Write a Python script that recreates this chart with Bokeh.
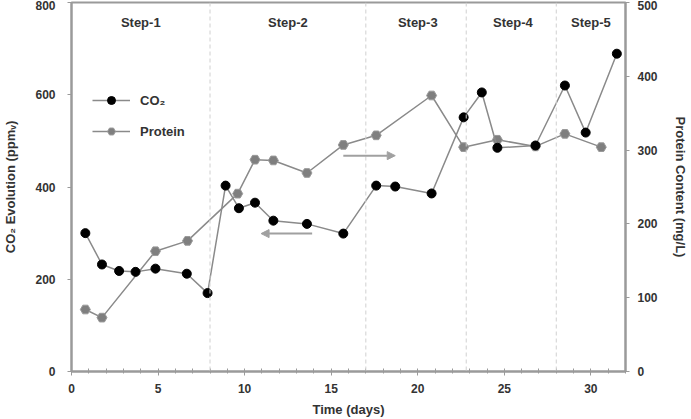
from bokeh.plotting import figure
from bokeh.models import (Range1d, LinearAxis, Span, Legend, LegendItem, Arrow,
                          NormalHead, FixedTicker)
from bokeh.core.properties import value
from bokeh.embed import file_html
from bokeh.resources import INLINE

# Sampling days
co2_days = [0.8, 1.76, 2.75, 3.7, 4.85, 6.66, 7.86, 8.9, 9.67, 10.6, 11.66, 13.6,
            15.7, 17.6, 18.7, 20.8, 22.65, 23.7, 24.6, 26.8, 28.5, 29.7, 31.5]
co2_ppm = [300, 232, 218, 216, 223, 212, 170, 403, 354, 366, 327, 320,
           299, 403, 401, 386, 551, 605, 485, 490, 620, 518, 689]

protein_days = [0.8, 1.76, 4.85, 6.7, 9.6, 10.6, 11.66, 13.6, 15.7, 17.6, 20.8,
                22.65, 24.6, 26.8, 28.5, 30.6]
protein_mgl = [84, 73, 163, 177, 241, 287, 286, 269, 307, 320, 374,
               304, 314, 305, 322, 304]

# Step boundaries and step labels
step_bounds = [8.0, 17.0, 22.8, 28.0]
step_names = ["Step-1", "Step-2", "Step-3", "Step-4", "Step-5"]
step_centers = [4.0, 12.5, 20.0, 25.5, 30.0]
step_label_y = [757] * 5

# Direction arrows (x start, x end, y on left scale)
arrow_right = (15.7, 18.7, 468)
arrow_left = (13.9, 10.95, 299)

x_ticks = [0, 5, 10, 15, 20, 25, 30]
left_ticks = [0, 200, 400, 600, 800]
right_ticks = [0, 100, 200, 300, 400, 500]

FONT = "Liberation Sans"
TXT = "#333333"
AXC = "#9a9a9a"
LINEC = "#8a8a8a"

p = figure(width=691, height=419, output_backend="svg", toolbar_location=None,
           x_range=Range1d(0, 32), y_range=Range1d(0, 800),
           min_border_left=67, min_border_right=66, min_border_top=2,
           min_border_bottom=48)
p.extra_y_ranges = {"protein": Range1d(0, 500)}
p.grid.visible = False
p.outline_line_color = AXC
p.outline_line_width = 2
p.background_fill_color = "white"
p.border_fill_color = "white"

# Step separators
for b in step_bounds:
    p.add_layout(Span(location=b, dimension="height", line_color="#d0d0d0",
                      line_dash="4 3", line_width=1))

# Step labels
p.text(x=step_centers, y=step_label_y, text=step_names, text_align="center",
       text_baseline="middle", text_font=value(FONT), text_font_style="bold",
       text_font_size="13px", text_color=TXT)

# Protein series (right scale)
prot_line = p.line(protein_days, protein_mgl, y_range_name="protein",
                   line_color=LINEC, line_width=1.5)
prot_pts = p.scatter(protein_days, protein_mgl, y_range_name="protein", marker="hex",
                     size=10, fill_color="#7f7f7f", line_color="#9a9a9a")

# CO2 series (left scale)
co2_line = p.line(co2_days, co2_ppm, line_color=LINEC, line_width=1.5)
co2_pts = p.scatter(co2_days, co2_ppm, marker="circle", size=9,
                    fill_color="black", line_color="black")

# Arrows pointing to the relevant axis
for (xs, xe, yy) in (arrow_right, arrow_left):
    p.add_layout(Arrow(end=NormalHead(size=8, fill_color="#a0a0a0", line_color="#a0a0a0"),
                       x_start=xs, y_start=yy, x_end=xe, y_end=yy,
                       line_color="#a0a0a0", line_width=2))

legend = Legend(items=[LegendItem(label="CO₂", renderers=[co2_line, co2_pts]),
                       LegendItem(label="Protein", renderers=[prot_line, prot_pts])],
                location=(21, 230), glyph_width=38, glyph_height=20, spacing=11,
                padding=0, margin=0, label_standoff=10,
                label_text_font=FONT, label_text_font_style="bold",
                label_text_font_size="13px", label_text_color=TXT,
                border_line_color=None, background_fill_alpha=0)
p.add_layout(legend)

def style_axis(ax):
    ax.axis_line_color = AXC
    ax.axis_line_width = 2
    ax.major_tick_line_color = AXC
    ax.minor_tick_line_color = AXC
    ax.major_tick_in = 0
    ax.major_tick_out = 4
    ax.major_label_text_font = FONT
    ax.major_label_text_font_style = "bold"
    ax.major_label_text_font_size = "12px"
    ax.major_label_text_color = TXT
    ax.axis_label_text_font = FONT
    ax.axis_label_text_font_style = "bold"
    ax.axis_label_text_font_size = "13px"
    ax.axis_label_text_color = TXT

xa = p.xaxis[0]
style_axis(xa)
xa.ticker = FixedTicker(ticks=x_ticks, minor_ticks=list(range(0, 33)))
xa.minor_tick_in = 3
xa.minor_tick_out = 2
xa.major_label_standoff = 8
xa.axis_label = "Time (days)"
xa.axis_label_standoff = 6

ya = p.yaxis[0]
style_axis(ya)
ya.ticker = FixedTicker(ticks=left_ticks)
ya.minor_tick_line_color = None
ya.major_label_standoff = 12
ya.axis_label = "CO₂ Evolution (ppmᵥ)"
ya.axis_label_standoff = 14

ra = LinearAxis(y_range_name="protein", axis_label="Protein Content (mg/L)")
style_axis(ra)
ra.ticker = FixedTicker(ticks=right_ticks)
ra.minor_tick_line_color = None
ra.major_label_standoff = 8
ra.axis_label_standoff = 12
p.add_layout(ra, "right")

open("out.html", "w").write(file_html(p, INLINE))
